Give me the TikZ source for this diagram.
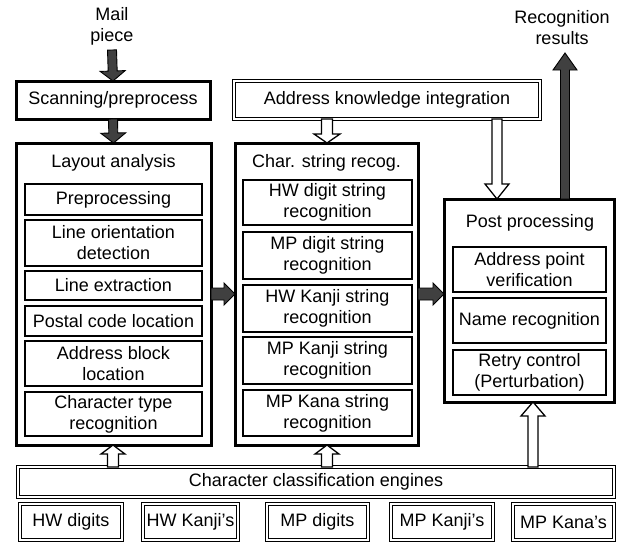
\documentclass[tikz,border=0pt]{standalone}
\usepackage{fontspec}
\setmainfont{Liberation Sans}
\usetikzlibrary{calc}

% box from (x1,y1) to (x2,y2), y measured downwards
\newcommand\bx[7]{%
  \node[#1, minimum width={(#5-#3)*1pt}, minimum height={(#6-#4)*1pt}] (#2) at (#3,#4) {#7};}

% block arrow: style, from, to, half shaft, half head, head length
\newcommand\blockarrow[6]{%
  \coordinate (ba-h) at ($(#3)!#6!(#2)$);
  \draw[#1] ($(#2)!#4!90:(#3)$) -- ($(ba-h)!#4!-90:(#2)$) -- ($(ba-h)!#5!-90:(#2)$)
    -- (#3) -- ($(ba-h)!#5!90:(#2)$) -- ($(ba-h)!#4!90:(#2)$) -- ($(#2)!#4!-90:(#3)$) -- cycle;}

\tikzset{
  every node/.style={font=\fontsize{18}{21}\selectfont, inner sep=0pt, outer sep=0pt, align=center},
  frame/.style={draw, line width=3pt, anchor=north west},
  inbox/.style={draw, line width=2.6pt, anchor=north west},
  dbox/.style={draw, double, line width=1.2pt, double distance=1.8pt, anchor=north west},
  solidarrow/.style={draw=black, line width=0.9pt, fill=black!75},
  hollowarrow/.style={draw=black, line width=1.3pt, fill=white},
}

\begin{document}
\begin{tikzpicture}[x=1pt, y=-1pt]
\useasboundingbox (0,0) rectangle (617,543);

% inputs and outputs
\node (mail) at (112,26) {Mail\\piece};
\node (rec) at (562,28) {Recognition\\results};
\coordinate (in) at (112,50);
\coordinate (out) at (565,53);

% top row
\bx{frame}{scan}{16}{81}{210}{119}{Scanning/preprocess}
\bx{dbox}{addr}{234}{81}{540}{119}{Address knowledge integration}

% layout analysis column
\bx{frame}{layout}{16}{143}{211}{445}{}
\node (laytitle) at (113.5,163) {Layout analysis};
\bx{inbox}{pre}{25}{184}{202}{215}{Preprocessing}
\bx{inbox}{orient}{25}{220}{202}{266}{Line orientation\\detection}
\bx{inbox}{lext}{25}{271}{202}{300}{Line extraction}
\bx{inbox}{postal}{25}{306}{202}{336}{Postal code location}
\bx{inbox}{ablock}{25}{341}{202}{386}{Address block\\location}
\bx{inbox}{ctype}{25}{392}{202}{436}{Character type\\recognition}

% character string recognition column
\bx{frame}{middle}{235}{143}{418}{445}{}
\node (midtitle) at (326.5,163) {Char. string recog.};
\bx{inbox}{hwd}{243}{180}{412}{225}{HW digit string\\recognition}
\bx{inbox}{mpd}{243}{232}{412}{279}{MP digit string\\recognition}
\bx{inbox}{hwk}{243}{285}{412}{332}{HW Kanji string\\recognition}
\bx{inbox}{mpk}{243}{337}{412}{384}{MP Kanji string\\recognition}
\bx{inbox}{mpkana}{243}{390}{412}{436}{MP Kana string\\recognition}

% post processing column
\bx{frame}{post}{444}{199}{614}{402}{}
\node (posttitle) at (530,223) {Post processing};
\bx{inbox}{apv}{453}{247}{606}{292}{Address point\\verification}
\bx{inbox}{name}{453}{298}{606}{343}{Name recognition}
\bx{inbox}{retry}{453}{350}{606}{395}{Retry control\\(Perturbation)}

% classification engines
\bx{dbox}{engines}{18}{467}{614}{497}{Character classification engines}
\bx{dbox}{hwdig}{20}{504}{122}{540}{HW digits}
\bx{dbox}{hwkan}{143}{504}{238}{540}{HW Kanji's}
\bx{dbox}{mpdig}{267}{504}{368}{540}{MP digits}
\bx{dbox}{mpkan}{391}{504}{493}{540}{MP Kanji's}
\bx{dbox}{mpkana2}{513}{504}{614}{540}{MP Kana's}

% arrow columns
\coordinate (xl) at (113,0);
\coordinate (xm) at (327,0);
\coordinate (xa) at (497,0);
\coordinate (xp) at (533,0);

% dark flow arrows
\blockarrow{solidarrow}{in}{scan.north}{4.5pt}{12.5pt}{10pt}
\blockarrow{solidarrow}{scan.south}{layout.north}{4.5pt}{12.5pt}{10pt}
\blockarrow{solidarrow}{layout.east}{middle.west}{6pt}{11pt}{11pt}
\blockarrow{solidarrow}{middle.east}{middle.east -| post.west}{6pt}{11pt}{11pt}
\blockarrow{solidarrow}{post.north -| out}{out}{4.5pt}{12pt}{17pt}

% hollow knowledge arrows
\blockarrow{hollowarrow}{addr.south -| xm}{middle.north -| xm}{5.5pt}{13pt}{9pt}
\blockarrow{hollowarrow}{addr.south -| xa}{post.north -| xa}{5pt}{12pt}{15pt}
\blockarrow{hollowarrow}{engines.north -| xl}{layout.south -| xl}{5.5pt}{12pt}{9pt}
\blockarrow{hollowarrow}{engines.north -| xm}{middle.south -| xm}{5.5pt}{12pt}{9pt}
\blockarrow{hollowarrow}{engines.north -| xp}{post.south -| xp}{5pt}{12pt}{14pt}
\end{tikzpicture}
\end{document}
